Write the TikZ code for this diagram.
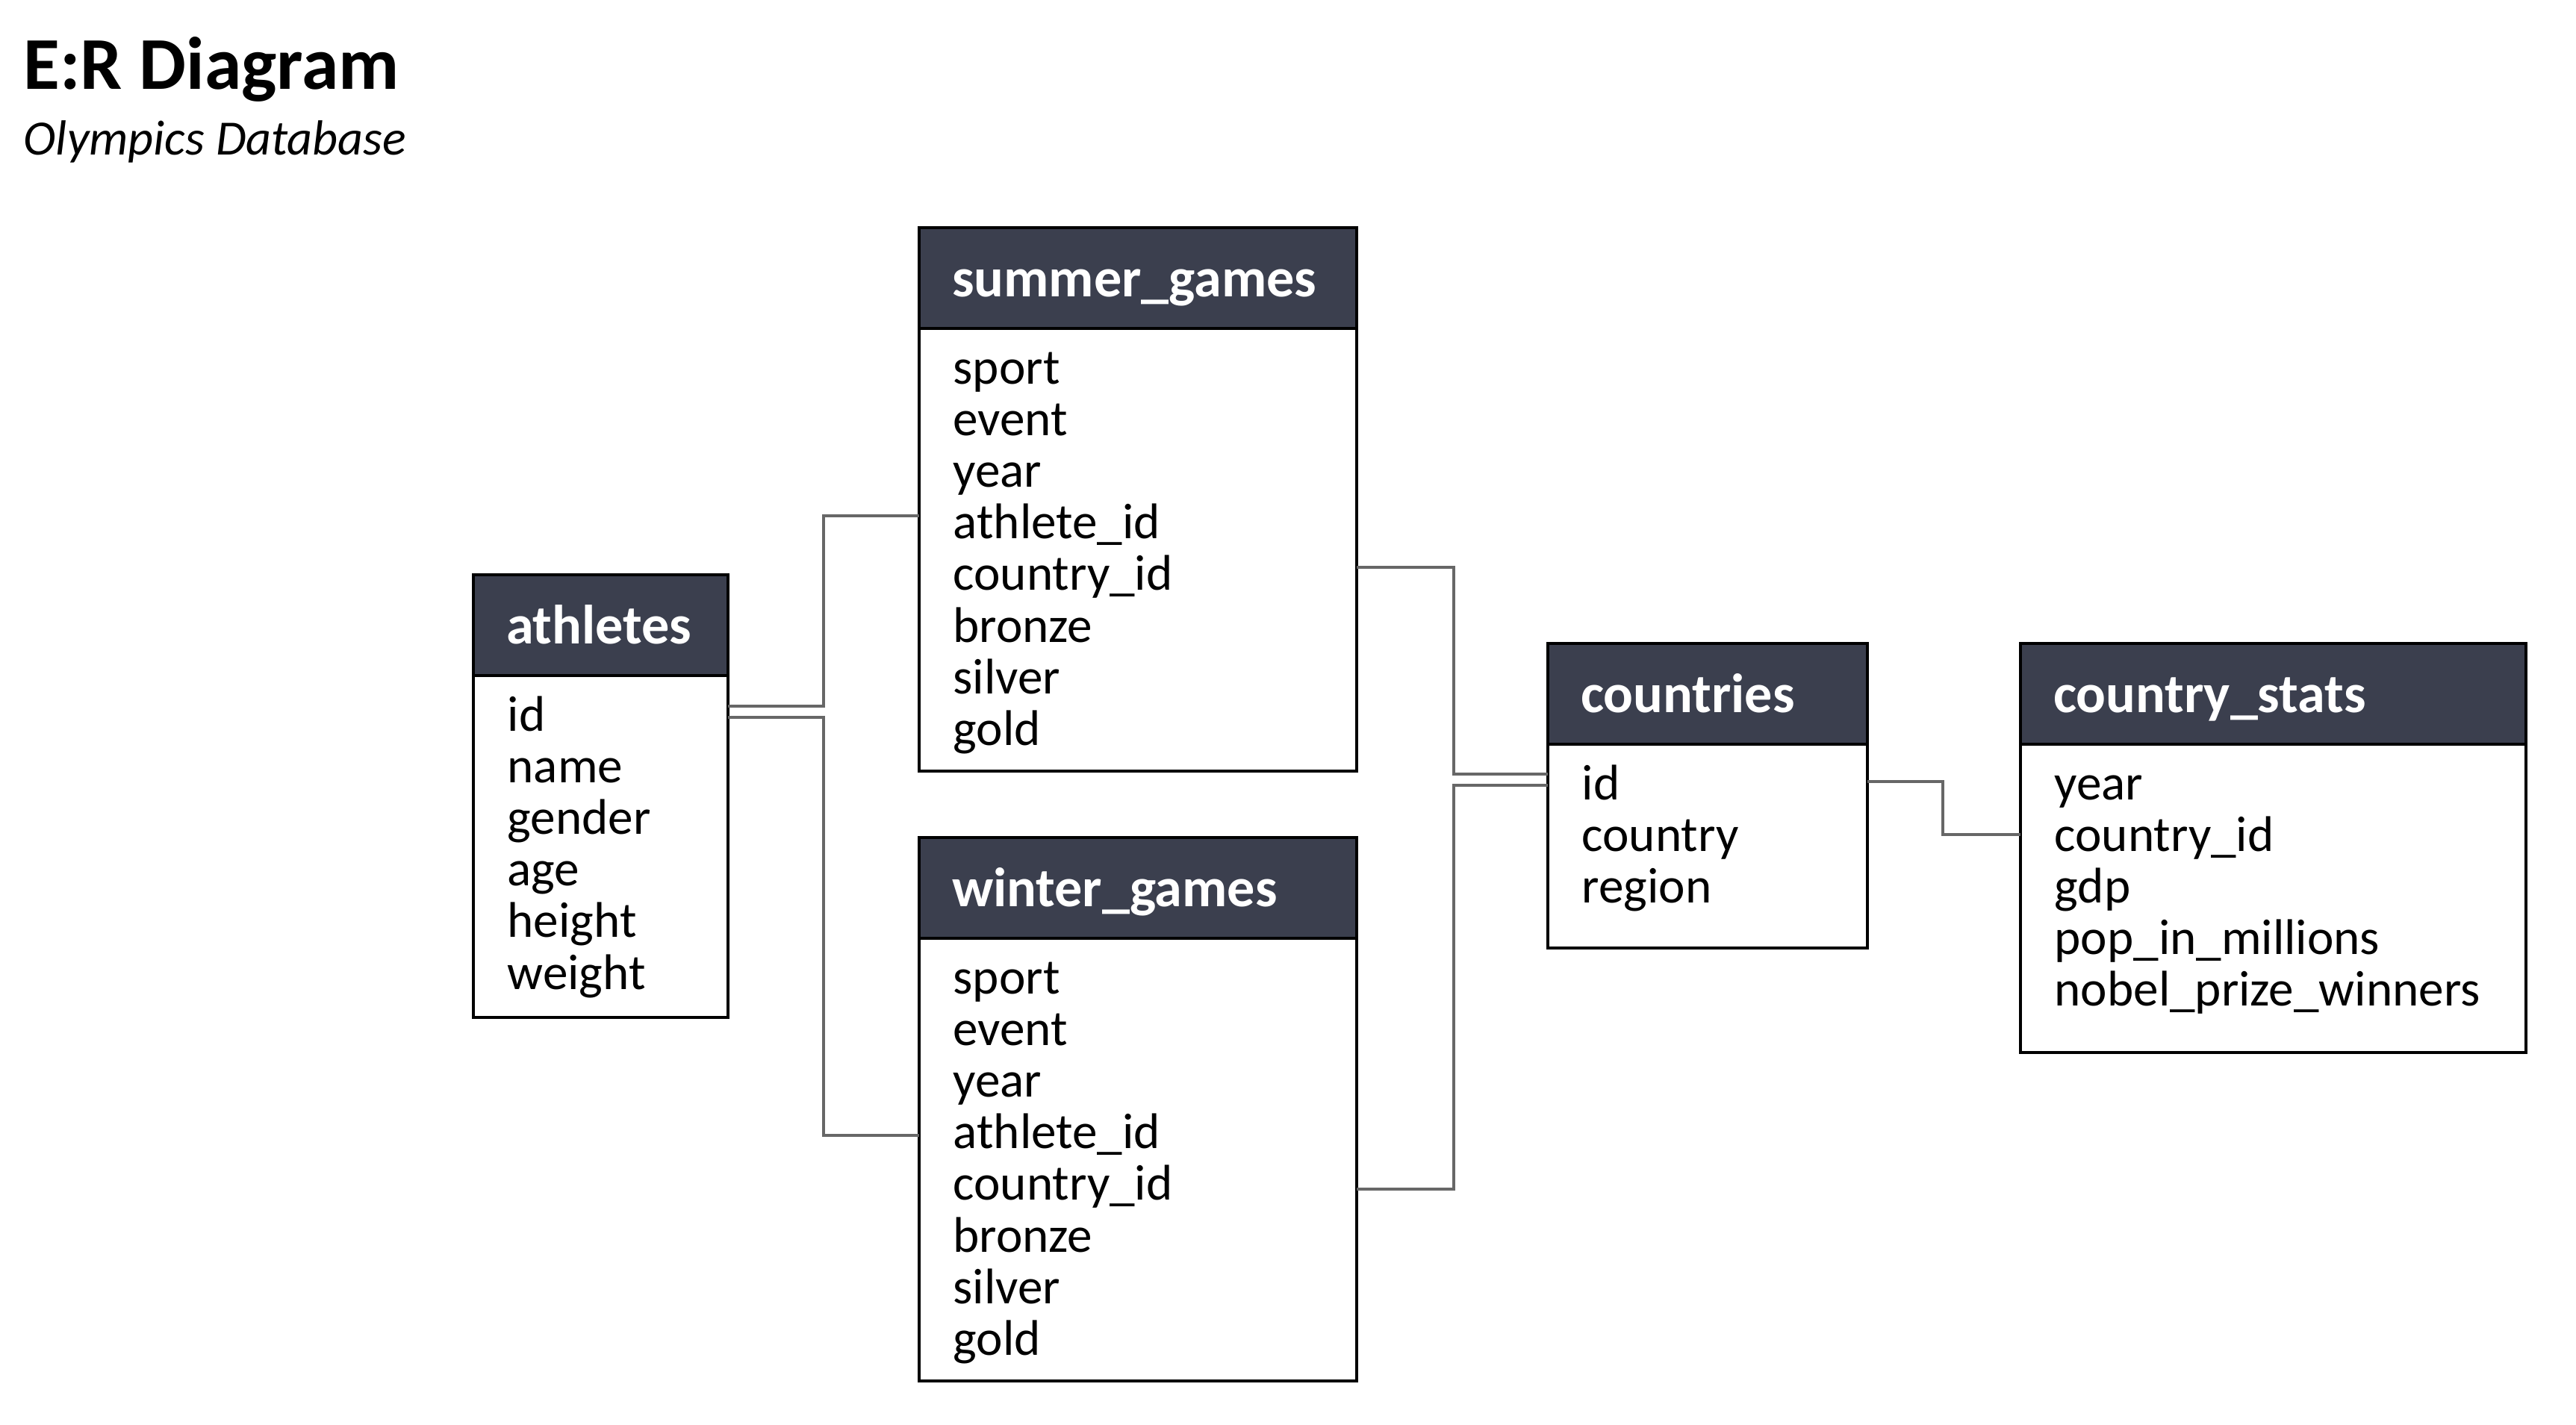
\documentclass[tikz,border=0pt]{standalone}
\usepackage{fontspec}
\setmainfont{Carlito}
\usetikzlibrary{positioning}

\definecolor{headgray}{HTML}{3B3F4E}
\definecolor{linkgray}{HTML}{676767}

\begin{document}
\begin{tikzpicture}[
    head/.style={draw=black, line width=1.2pt, fill=headgray, text=white,
      font=\fontsize{21.1pt}{24pt}\selectfont\bfseries, align=left,
      inner xsep=0.44cm, inner ysep=0pt, outer sep=0pt,
      minimum height=\hh cm, text height=0.6cm, text depth=0.10cm},
    tbl/.style={draw=black, line width=1.2pt, fill=white, inner sep=0pt,
      outer sep=0pt},
    rows/.style={anchor=north west, align=left, inner sep=0pt,
      font=\fontsize{19.1pt}{19.65pt}\selectfont},
    link/.style={draw=linkgray, line width=1.3pt}
  ]

  \def\hh{1.35}   % header height

  \useasboundingbox (0,0) rectangle (34.50,-19.08);

  % title
  \node[anchor=base west, inner sep=0pt, font=\fontsize{28.4pt}{31pt}\selectfont\bfseries]
    (title) at (0.31,-1.19) {E:R Diagram};
  \node[anchor=base west, inner sep=0pt, font=\fontsize{18.8pt}{21pt}\selectfont\itshape]
    (subtitle) at (0.31,-2.07) {Olympics Database};

  % athletes
  \node[head, anchor=north west, text width={3.41cm-0.88cm}] (athletes) at (6.34,-7.70) {athletes};
  \node[tbl, anchor=north, minimum width=3.41cm, minimum height=4.58cm,
    below=0pt of athletes] (athletes-body) {};
  \node[rows] (athletes-rows) at ([xshift=0.45cm,yshift=-0.19cm]athletes-body.north west)
    {\rule{0pt}{0.55cm}id\\name\\gender\\age\\height\\weight};

  % summer_games
  \node[head, anchor=north west, text width={5.86cm-0.88cm}] (summer) at (12.31,-3.05) {summer\_games};
  \node[tbl, minimum width=5.86cm, minimum height=5.93cm,
    below=0pt of summer] (summer-body) {};
  \node[rows] (summer-rows) at ([xshift=0.45cm,yshift=-0.19cm]summer-body.north west)
    {\rule{0pt}{0.55cm}sport\\event\\year\\athlete\_id\\country\_id\\bronze\\silver\\gold};

  % winter_games
  \node[head, anchor=north west, text width={5.86cm-0.88cm}] (winter) at (12.31,-11.22) {winter\_games};
  \node[tbl, minimum width=5.86cm, minimum height=5.93cm,
    below=0pt of winter] (winter-body) {};
  \node[rows] (winter-rows) at ([xshift=0.45cm,yshift=-0.19cm]winter-body.north west)
    {\rule{0pt}{0.55cm}sport\\event\\year\\athlete\_id\\country\_id\\bronze\\silver\\gold};

  % countries
  \node[head, anchor=north west, text width={4.28cm-0.88cm}] (countries) at (20.73,-8.62) {countries};
  \node[tbl, minimum width=4.28cm, minimum height=2.73cm,
    below=0pt of countries] (countries-body) {};
  \node[rows] (countries-rows) at ([xshift=0.45cm,yshift=-0.19cm]countries-body.north west)
    {\rule{0pt}{0.55cm}id\\country\\region};

  % country_stats
  \node[head, anchor=north west, text width={6.77cm-0.88cm}] (stats) at (27.06,-8.62) {country\_stats};
  \node[tbl, minimum width=6.77cm, minimum height=4.13cm,
    below=0pt of stats] (stats-body) {};
  \node[rows] (stats-rows) at ([xshift=0.45cm,yshift=-0.19cm]stats-body.north west)
    {\rule{0pt}{0.55cm}year\\country\_id\\gdp\\pop\_in\_millions\\nobel\_prize\_winners};

  % links
  \draw[link] ([yshift=-0.41cm]athletes-body.north east) -- ++(1.28,0)
    |- ([yshift=-2.51cm]summer-body.north west);
  \draw[link] ([yshift=-0.56cm]athletes-body.north east) -- ++(1.28,0)
    |- ([yshift=-2.64cm]winter-body.north west);
  \draw[link] ([yshift=-3.20cm]summer-body.north east) -- ++(1.30,0)
    |- ([yshift=-0.40cm]countries-body.north west);
  \draw[link] ([yshift=-3.36cm]winter-body.north east) -- ++(1.30,0)
    |- ([yshift=-0.55cm]countries-body.north west);
  \draw[link] ([yshift=-0.50cm]countries-body.north east) -- ++(1.01,0)
    |- ([yshift=-1.21cm]stats-body.north west);

\end{tikzpicture}
\end{document}
